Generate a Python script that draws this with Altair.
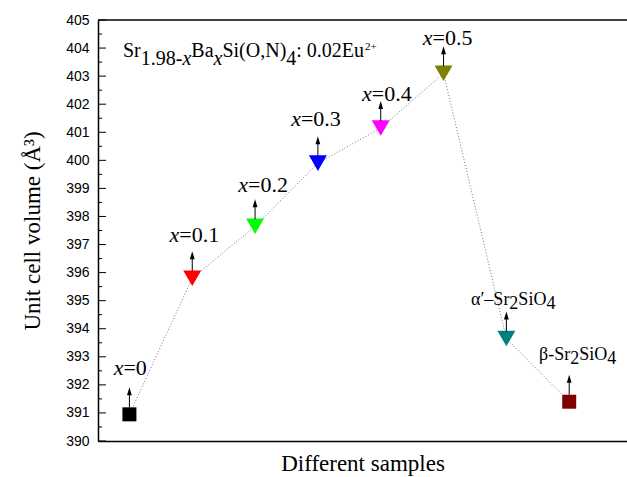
import altair as alt
import pandas as pd

# ---------------- data ----------------
samples = ["x=0", "x=0.1", "x=0.2", "x=0.3", "x=0.4", "x=0.5", "α′-Sr2SiO4", "β-Sr2SiO4"]
position = [1, 2, 3, 4, 5, 6, 7, 8]
volume = [390.95, 395.8, 397.65, 399.9, 401.15, 403.1, 393.65, 391.4]
colors = ["#000000", "#FF0000", "#00FF00", "#0000FF", "#FF00FF", "#808000", "#008080", "#800000"]
square_samples = ["x=0", "β-Sr2SiO4"]
y_major = [390, 391, 392, 393, 394, 395, 396, 397, 398, 399, 400, 401, 402, 403, 404, 405]
y_minor = [390.5, 391.5, 392.5, 393.5, 394.5, 395.5, 396.5, 397.5, 398.5, 399.5,
           400.5, 401.5, 402.5, 403.5, 404.5]

SERIF = "Liberation Serif"
SANS = "Liberation Sans"
W, H = 529, 421

# Times-compatible advance widths (em units) used to chain text segments
TIMES = {"S": .556, "r": .333, "1": .5, ".": .25, "9": .5, "8": .5, "-": .333, "x": .444,
         "B": .667, "a": .444, "i": .278, "(": .333, "O": .722, ",": .25, "N": .722,
         ")": .333, "4": .5, ":": .278, " ": .25, "0": .5, "2": .5, "E": .611, "u": .5}


def text_width(s, size):
    return sum(TIMES.get(c, .5) for c in s) * size


df = pd.DataFrame({"sample": samples, "pos": position, "vol": volume})

X = alt.X("pos:Q",
          scale=alt.Scale(domain=[0.5, 8.92], nice=False, zero=False),
          axis=alt.Axis(title="Different samples", labels=False, ticks=False, grid=False,
                        domainColor="black", domainWidth=1.5,
                        titleFont=SERIF, titleFontSize=23, titleFontWeight="normal",
                        titleColor="black", titleBaseline="alphabetic", titleY=29))
Y = alt.Y("vol:Q",
          scale=alt.Scale(domain=[390, 405], nice=False, zero=False),
          axis=alt.Axis(values=y_major, format="d", title="Unit cell volume (Å³)",
                        labelFont=SANS, labelFontSize=14, labelColor="black", labelPadding=9,
                        ticks=False, tickSize=0, grid=False,
                        domainColor="black", domainWidth=1.5,
                        titleFont=SERIF, titleFontSize=23, titleFontWeight="normal",
                        titleColor="black", titleAngle=-90, titleAlign="center",
                        titleBaseline="alphabetic", titleX=-59, titleY=H / 2))

color = alt.Color("sample:N", scale=alt.Scale(domain=samples, range=colors), legend=None)

base = alt.Chart(df)

line = base.mark_line(color="#777777", strokeWidth=1, strokeDash=[1, 2]).encode(
    x=X, y=Y, order="pos:Q")

squares = base.transform_filter(
    alt.FieldOneOfPredicate(field="sample", oneOf=square_samples)
).mark_point(shape="square", filled=True, size=196, opacity=1).encode(x=X, y=Y, color=color)

triangles = base.transform_filter(
    {"not": alt.FieldOneOfPredicate(field="sample", oneOf=square_samples)}
).mark_point(shape="triangle-down", filled=True, size=324, opacity=1).encode(x=X, y=Y, color=color)

shaft = base.mark_rule(color="black", strokeWidth=1, yOffset=-7, y2Offset=-22).encode(
    x=X, y=Y, y2=alt.Y2("vol:Q"))
head = base.mark_point(shape="M0,-1L0.6,1L-0.6,1Z", filled=True, size=64, opacity=1,
                       color="black", yOffset=-23).encode(x=X, y=Y)

# inner ticks on the y axis
maj = alt.Chart(pd.DataFrame({"vol": y_major})).mark_rule(color="black", strokeWidth=1).encode(
    y=Y, x=alt.value(0), x2=alt.value(8))
mnr = alt.Chart(pd.DataFrame({"vol": y_minor})).mark_rule(color="black", strokeWidth=1).encode(
    y=Y, x=alt.value(0), x2=alt.value(4))
top = alt.Chart(pd.DataFrame({"a": [0]})).mark_rule(color="black", strokeWidth=1.5).encode(
    x=alt.value(0), x2=alt.value(W), y=alt.value(0))

layers = [line, squares, triangles, shaft, head, maj, mnr, top]

# ---------------- point labels (x=... with italic x) ----------------
x_labels = ["=0", "=0.1", "=0.2", "=0.3", "=0.4", "=0.5"]
label_split = [-6, -13, -7, -17, -9, -11]
label_rise = [-39, -36, -34, -37, -27, -28]
for k, (txt, sx, dy) in enumerate(zip(x_labels, label_split, label_rise)):
    sub = base.transform_filter(alt.datum.pos == position[k])
    layers.append(sub.mark_text(font=SERIF, fontSize=22, fontStyle="italic", align="right",
                                baseline="alphabetic", dx=sx, dy=dy, color="black")
                  .encode(x=X, y=Y, text=alt.value("x")))
    layers.append(sub.mark_text(font=SERIF, fontSize=22, align="left",
                                baseline="alphabetic", dx=sx, dy=dy, color="black")
                  .encode(x=X, y=Y, text=alt.value(txt)))

# phase labels: head text right-aligned at split, then chained segments (text, is_sub)
phase_labels = {
    7: ("α′–Sr", 3, -34, [("2", True), ("SiO", False), ("4", True)]),
    8: ("β-Sr", 1, -42, [("2", True), ("SiO", False), ("4", True)]),
}
for p, (head_txt, split, rise, segs) in phase_labels.items():
    sub = base.transform_filter(alt.datum.pos == p)
    layers.append(sub.mark_text(font=SERIF, fontSize=18, align="right",
                                baseline="alphabetic", dx=split, dy=rise, color="black")
                  .encode(x=X, y=Y, text=alt.value(head_txt)))
    cx = split
    for txt, is_sub in segs:
        layers.append(sub.mark_text(font=SERIF, fontSize=18, align="left",
                                    baseline="alphabetic", dx=cx,
                                    dy=rise + (4 if is_sub else 0), color="black")
                      .encode(x=X, y=Y, text=alt.value(txt)))
        cx += text_width(txt, 18)

# ---------------- formula annotation ----------------
one = alt.Chart(pd.DataFrame({"a": [0]}))
formula = [("Sr", "n"), ("1.98-", "s"), ("x", "si"), ("Ba", "n"), ("x", "si"),
           ("Si(O,N)", "n"), ("4", "s"), (": 0.02Eu", "n")]
fx, fy, fs = 25, 37, 20
for txt, kind in formula:
    layers.append(one.mark_text(font=SERIF, fontSize=fs,
                                fontStyle="italic" if "i" in kind else "normal",
                                align="left", baseline="alphabetic", color="black")
                  .encode(x=alt.value(fx), y=alt.value(fy + (8 if "s" in kind else 0)),
                          text=alt.value(txt)))
    fx += text_width(txt, fs)
layers.append(one.mark_text(font=SERIF, fontSize=11, align="left", baseline="alphabetic",
                            color="black")
              .encode(x=alt.value(fx + 1), y=alt.value(fy - 7), text=alt.value("2+")))

chart = alt.layer(*layers).properties(
    width=W, height=H,
    padding={"left": 98, "top": 20, "right": 0, "bottom": 36},
    autosize=alt.AutoSizeParams(type="none"),
    background="white",
).configure_view(stroke=None)

chart.save("out.html", embed_options={"renderer": "svg", "actions": False})
